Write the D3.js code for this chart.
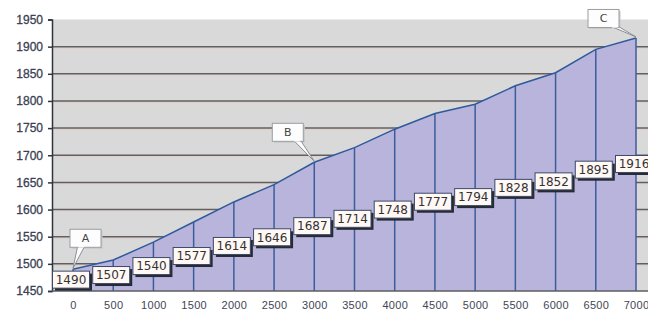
<!DOCTYPE html>
<html>
<head>
<meta charset="utf-8">
<script src="https://cdn.jsdelivr.net/npm/d3@7"></script>
<style>
  body { margin: 0; background: #fff; }
  svg { display: block; font-family: "DejaVu Sans", Verdana, sans-serif; }
</style>
</head>
<body>
<div id="chart"></div>
<script>
// distance (m) and elevation (m)
var distances = [0, 500, 1000, 1500, 2000, 2500, 3000, 3500, 4000, 4500, 5000, 5500, 6000, 6500, 7000];
var elevations = [1490, 1507, 1540, 1577, 1614, 1646, 1687, 1714, 1748, 1777, 1794, 1828, 1852, 1895, 1916];
var yTicks = [1450, 1500, 1550, 1600, 1650, 1700, 1750, 1800, 1850, 1900, 1950];
var calloutLetters = ["A", "B", "C"];
var calloutIndex = [0, 6, 14];

var W = 648, H = 311;
var plotLeft = 52, plotRight = 648, plotTop = 19.5, plotBottom = 291;

var data = distances.map(function(d, i) { return {dist: d, elev: elevations[i]}; });

var svg = d3.select("#chart").append("svg")
    .attr("width", W)
    .attr("height", H);

var x = d3.scaleLinear().domain([0, 7000]).range([73, 636]);
var y = d3.scaleLinear().domain([1450, 1950]).range([plotBottom, plotTop]);

// plot background
svg.append("rect")
    .attr("x", plotLeft).attr("y", plotTop)
    .attr("width", plotRight - plotLeft).attr("height", plotBottom - plotTop)
    .style("fill", "#d9d9d9");

// gridlines (with the faint pinkish halo from the original)
svg.selectAll(".grid-halo")
    .data(yTicks.slice(1, -1))
    .enter().append("line")
        .attr("class", "grid-halo")
        .attr("x1", plotLeft).attr("x2", plotRight)
        .attr("y1", function(d) { return y(d) + 1.5; })
        .attr("y2", function(d) { return y(d) + 1.5; })
        .style("stroke", "#e2cfca").style("stroke-width", 1);
svg.selectAll(".grid")
    .data(yTicks.slice(1, -1))
    .enter().append("line")
        .attr("class", "grid")
        .attr("x1", plotLeft).attr("x2", plotRight)
        .attr("y1", function(d) { return y(d); })
        .attr("y2", function(d) { return y(d); })
        .style("stroke", "#606062").style("stroke-width", 1.5);

// area
var area = d3.area()
    .x(function(d) { return x(d.dist); })
    .y0(y(1450))
    .y1(function(d) { return y(d.elev); });
svg.append("path")
    .datum(data)
    .attr("d", area)
    .style("fill", "#b8b4dc");

// drop lines
svg.selectAll(".drop")
    .data(data)
    .enter().append("line")
        .attr("class", "drop")
        .attr("x1", function(d) { return x(d.dist); })
        .attr("x2", function(d) { return x(d.dist); })
        .attr("y1", plotBottom)
        .attr("y2", function(d) { return y(d.elev); })
        .style("stroke", "#3d5c9c").style("stroke-width", 1.5);

var line = d3.line()
    .x(function(d) { return x(d.dist); })
    .y(function(d) { return y(d.elev); });
svg.append("path")
    .datum(data)
    .attr("d", line)
    .style("fill", "none")
    .style("stroke", "#2f5a9a").style("stroke-width", 1.5);

// y axis
var yAxis = svg.append("g")
    .attr("class", "axis axis--y")
    .attr("transform", "translate(" + plotLeft + ",0)")
    .call(d3.axisLeft(y).tickValues(yTicks).tickSize(4).tickPadding(5).tickFormat(d3.format("d")));
yAxis.select(".domain").style("stroke", "#2e3440").style("stroke-width", 1.5);
yAxis.selectAll(".tick line").style("stroke", "#2e3440").style("stroke-width", 1.5);
yAxis.selectAll("text")
    .style("font-size", "12px").style("fill", "#3a4152").style("stroke", "#3a4152").style("stroke-width", 0.3);

// bottom axis line
svg.append("line")
    .attr("x1", plotLeft).attr("x2", plotRight)
    .attr("y1", plotBottom).attr("y2", plotBottom)
    .style("stroke", "#5e5e60").style("stroke-width", 1.5);

// x labels
var xAxis = svg.append("g")
    .attr("class", "axis axis--x")
    .attr("transform", "translate(0," + plotBottom + ")")
    .call(d3.axisBottom(x).tickValues(distances).tickSize(0).tickPadding(10).tickFormat(d3.format("d")));
xAxis.select(".domain").remove();
xAxis.selectAll("text")
    .style("font-size", "11px").style("fill", "#3f4656").style("letter-spacing", "0.3px");

// data labels (centered between point and baseline)
var boxW = 37, boxH = 17;
var labels = svg.selectAll(".datalabel")
    .data(data)
    .enter().append("g")
        .attr("class", "datalabel")
        .attr("transform", function(d) {
            var cx = x(d.dist) - 2, cy = (y(d.elev) + plotBottom) / 2 - 0.5;
            return "translate(" + cx + "," + cy + ")";
        });
labels.append("rect")
    .attr("x", -boxW / 2 + 2.5).attr("y", -boxH / 2 + 2.5)
    .attr("width", boxW).attr("height", boxH)
    .style("fill", "#262a33");
labels.append("rect")
    .attr("x", -boxW / 2).attr("y", -boxH / 2)
    .attr("width", boxW).attr("height", boxH)
    .style("fill", "#fff8f5").style("stroke", "#3b4a68").style("stroke-width", 1);
labels.append("text")
    .attr("text-anchor", "middle")
    .attr("dy", "0.36em")
    .style("font-size", "12px").style("fill", "#333")
    .text(function(d) { return d.elev; });

// callouts
var calloutOffset = [[12.5, -31], [-26.5, -30], [-32.5, -19.5]];
var cw = 31, ch = 18;
calloutLetters.forEach(function(letter, i) {
    var d = data[calloutIndex[i]];
    var tx = x(d.dist), ty = y(d.elev);
    var cx = tx + calloutOffset[i][0], cy = ty + calloutOffset[i][1];
    var g = svg.append("g").attr("class", "callout");
    var bx = cx + (tx - cx) * 0.35;
    bx = Math.max(cx - cw / 2 + 4, Math.min(cx + cw / 2 - 4, bx));
    var by = cy + ch / 2;
    g.append("rect")
        .attr("x", cx - cw / 2 + 1.5).attr("y", cy - ch / 2 + 1.5)
        .attr("width", cw).attr("height", ch)
        .style("fill", "#c8c8c8");
    g.append("path")
        .attr("d", "M" + (bx - 3.5) + "," + (by - 1) + "L" + tx + "," + (ty - 1) + "L" + (bx + 3.5) + "," + (by - 1) + "Z")
        .style("fill", "#fdfdfd").style("stroke", "#8a8e94").style("stroke-width", 1);
    g.append("rect")
        .attr("x", cx - cw / 2).attr("y", cy - ch / 2)
        .attr("width", cw).attr("height", ch)
        .style("fill", "#fdfdfd").style("stroke", "#9a9ea4").style("stroke-width", 1);
    g.append("path")
        .attr("d", "M" + (bx - 2.8) + "," + (by - 0.5) + "L" + (bx + 2.8) + "," + (by - 0.5))
        .style("stroke", "#fdfdfd").style("stroke-width", 1.5);
    g.append("text")
        .attr("x", cx).attr("y", cy)
        .attr("text-anchor", "middle")
        .attr("dy", "0.36em")
        .style("font-size", "11px").style("fill", "#444")
        .text(letter);
});
</script>
</body>
</html>
